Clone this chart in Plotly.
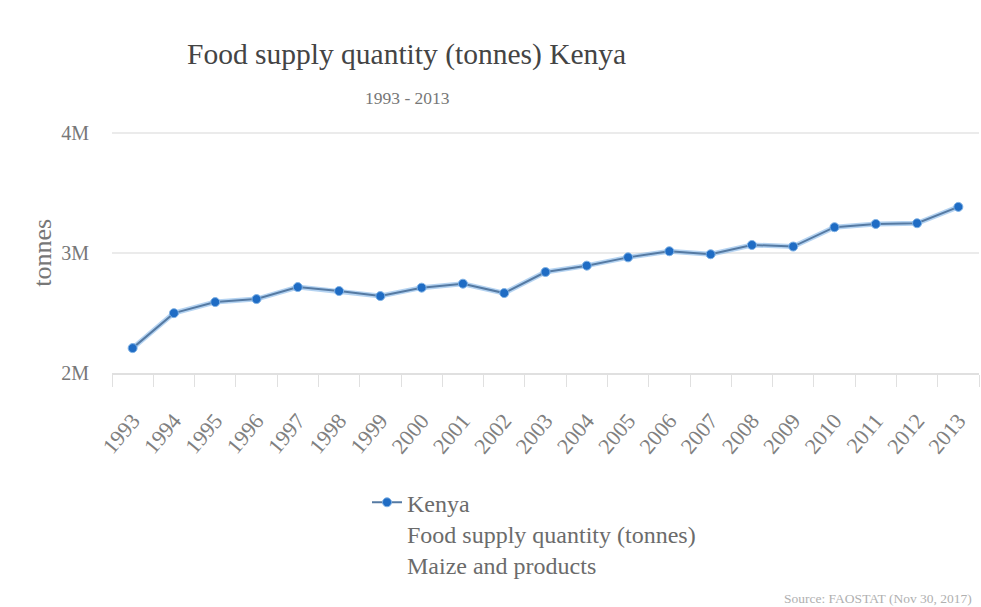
import plotly.graph_objects as go

# Kenya, food supply quantity of maize and products (tonnes)
years = [str(y) for y in range(1993, 2014)]
supply_tonnes = [
    2207000, 2498000, 2590000, 2615000, 2715000, 2682000, 2640000,
    2710000, 2743000, 2665000, 2840000, 2893000, 2962000, 3013000,
    2988000, 3065000, 3052000, 3213000, 3240000, 3246000, 3382000,
]
y_tick_values = [2000000, 3000000, 4000000]
y_tick_labels = ["2M", "3M", "4M"]

FONT = "Liberation Serif"

# plot area in pixels (y range runs slightly past 4M so its gridline is drawn)
W, H = 981, 607
Y_MIN, Y_MAX = 2000000, 4030000
PX_PER_UNIT = 120 / 1000000
L, R, B = 112, 979, 373
T = B - (Y_MAX - Y_MIN) * PX_PER_UNIT
pw, ph = R - L, B - T


def px_x(x):
    return (x - L) / pw


def px_y(y):
    return (B - y) / ph


fig = go.Figure()

# soft halo under the series line
fig.add_trace(go.Scatter(
    x=years, y=supply_tonnes, mode="lines",
    line=dict(color="rgba(120,175,230,0.55)", width=5),
    hoverinfo="skip", showlegend=False,
))
fig.add_trace(go.Scatter(
    x=years, y=supply_tonnes, mode="lines+markers",
    name="Kenya<br>Food supply quantity (tonnes)<br>Maize and products",
    line=dict(color="#557aa3", width=2),
    marker=dict(color="#1f6cc4", size=9, line=dict(color="#7fb2e6", width=1)),
))

fig.update_layout(
    width=W, height=H,
    margin=dict(l=L, r=W - R, t=T, b=H - B, pad=0),
    paper_bgcolor="white", plot_bgcolor="white",
    font=dict(family=FONT, color="#666666"),
    showlegend=True,
    legend=dict(
        x=px_x(367), y=px_y(480), xanchor="left", yanchor="top",
        font=dict(family=FONT, size=24, color="#6b6b6b"),
        itemwidth=30, valign="top", bgcolor="rgba(0,0,0,0)",
        tracegroupgap=0,
    ),
    xaxis=dict(
        type="category", range=[-0.5, 20.5],
        showgrid=False, showline=True, linecolor="#e0e0e0", linewidth=2,
        ticks="outside", tickson="boundaries", ticklen=12,
        tickcolor="#e0e0e0", tickwidth=1,
        tickangle=-50, ticklabelstandoff=24,
        tickfont=dict(family=FONT, size=22, color="#808080"),
        zeroline=False,
    ),
    yaxis=dict(
        range=[Y_MIN, Y_MAX],
        tickvals=y_tick_values, ticktext=y_tick_labels,
        showgrid=True, gridcolor="#ebebeb", gridwidth=2,
        showline=False, zeroline=False, ticks="",
        ticklabelstandoff=22,
        tickfont=dict(family=FONT, size=20, color="#777777"),
    ),
    annotations=[
        dict(text="Food supply quantity (tonnes) Kenya",
             x=px_x(406), y=px_y(55), xref="paper", yref="paper",
             showarrow=False, xanchor="center", yanchor="middle",
             font=dict(family=FONT, size=29.5, color="#444444")),
        dict(text="1993 - 2013",
             x=px_x(407), y=px_y(98), xref="paper", yref="paper",
             showarrow=False, xanchor="center", yanchor="middle",
             font=dict(family=FONT, size=17.5, color="#777777")),
        dict(text="tonnes", textangle=-90,
             x=px_x(43), y=px_y(253), xref="paper", yref="paper",
             showarrow=False, xanchor="center", yanchor="middle",
             font=dict(family=FONT, size=26, color="#777777")),
        dict(text="Source: FAOSTAT (Nov 30, 2017)",
             x=px_x(974), y=px_y(598), xref="paper", yref="paper",
             showarrow=False, xanchor="right", yanchor="middle",
             font=dict(family=FONT, size=13.5, color="#b0b0b0")),
    ],
)

fig.write_html("out.html")
